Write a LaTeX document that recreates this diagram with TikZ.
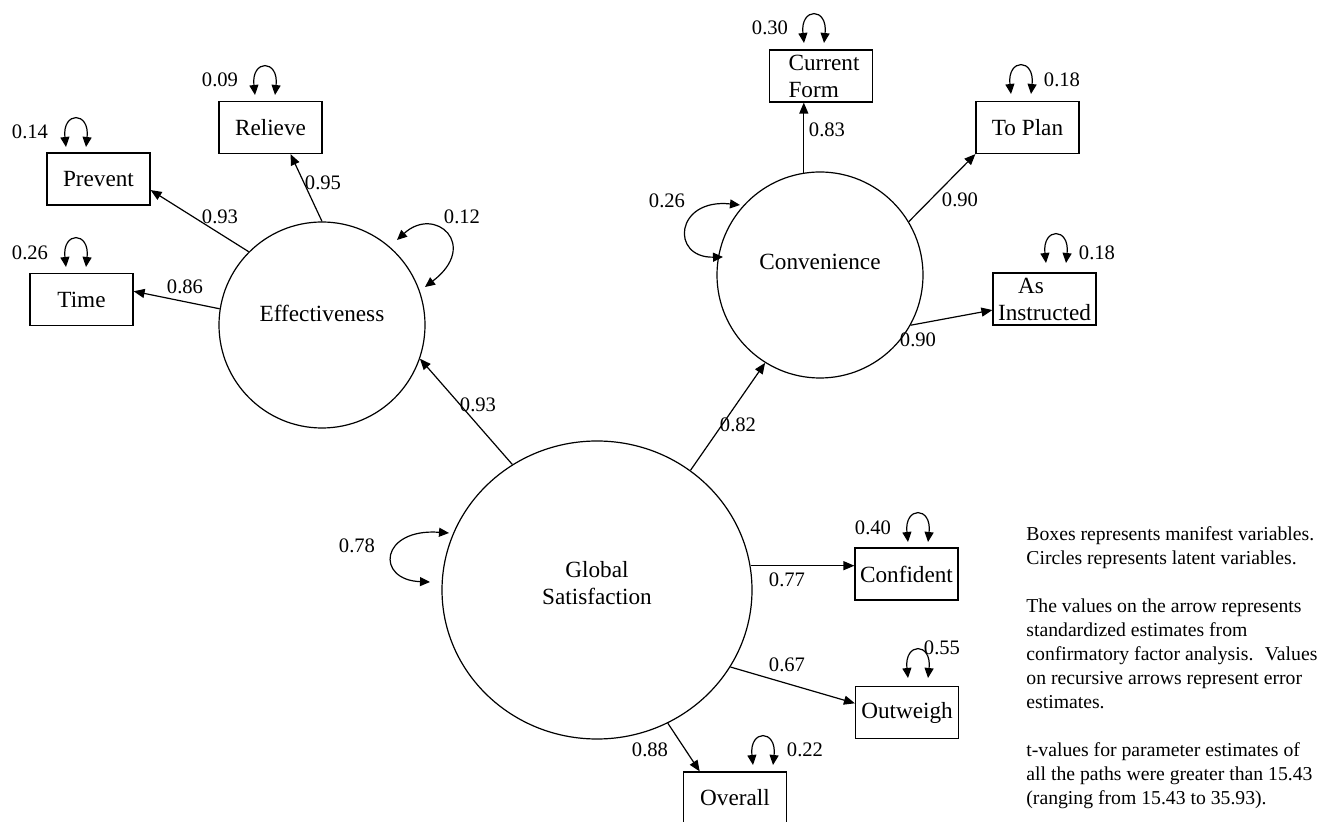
\documentclass[tikz,border=0pt]{standalone}
\usepackage{fontspec}
\setmainfont{Liberation Serif}
\usetikzlibrary{shapes.geometric, arrows.meta}
\tikzstyle{arrow} = [line width=0.6pt, -{Triangle[length=5.5pt,width=4.5pt]}]
\tikzstyle{errarc} = [line width=0.6pt, {Triangle[length=5pt,width=4.5pt]}-{Triangle[length=5pt,width=4.5pt]}]
\tikzstyle{manifest} = [draw, line width=0.6pt, rectangle, minimum width=51.5pt, minimum height=26pt, inner sep=0pt, align=left]
\tikzstyle{latent} = [draw, line width=0.6pt, circle, minimum size=103pt, inner sep=0pt]
\tikzstyle{coef} = [inner sep=0pt, font=\fontsize{10.3}{12}\selectfont]

\begin{document}
\begin{tikzpicture}[x=0.5pt, y=-0.5pt, every node/.style={font=\fontsize{11.6}{13.5}\selectfont}]
    \useasboundingbox (0,0) rectangle (1322,822);

    % latent variables
    \node[latent, label={[yshift=6pt]center:Effectiveness}] (eff) at (322,325) {};
    \node[latent, label={[yshift=6.5pt]center:Convenience}] (conv) at (820,275) {};
    \node[latent, ellipse, minimum width=155pt, minimum height=149pt,
          label={[yshift=3.5pt, align=center]center:Global\\Satisfaction}] (gs) at (597,590) {};

    % manifest variables
    \node[manifest] (relieve) at (270.5,127.5) {Relieve};
    \node[manifest] (prevent) at (98.5,179) {Prevent};
    \node[manifest] (time) at (81.5,299.5) {Time};
    \node[manifest] (cur) at (821,76) {\hspace{3pt}Current\\\hspace{3pt}Form};
    \node[manifest] (toplan) at (1027.5,127.5) {To Plan};
    \node[manifest] (asi) at (1044.5,299) {\hspace{10pt}As\\Instructed};
    \node[manifest] (conf) at (906.5,574) {Confident};
    \node[manifest] (outw) at (907,712.5) {Outweigh};
    \node[manifest] (overall) at (735,798) {Overall};

    % loadings
    \draw[arrow] (eff.north) -- (relieve.-53);
    \draw[arrow] (eff.135) -- (prevent.-12);
    \draw[arrow] (eff.171) -- (time.9);
    \draw[arrow] (conv.99) -- (conv.99 |- cur.south);
    \draw[arrow] (conv.31) -- (toplan.south west);
    \draw[arrow] (conv.-29) -- (asi.192);
    \draw[arrow] (gs.124) -- (eff.-19);
    \draw[arrow] (gs.52) -- (conv.238);
    \draw[arrow] (gs.9) -- (gs.9 -| conf.west);
    \draw[arrow] (gs.-30) -- (outw.170);
    \draw[arrow] (gs.-62) -- (overall.143);

    \node[coef] (c-relieve) at (323,183) {0.95};
    \node[coef] (c-prevent) at (220,217) {0.93};
    \node[coef] (c-time) at (185,287) {0.86};
    \node[coef] (c-cur) at (827,130) {0.83};
    \node[coef] (c-toplan) at (960,200) {0.90};
    \node[coef] (c-asi) at (918,340) {0.90};
    \node[coef] (c-eff) at (478,405) {0.93};
    \node[coef] (c-conv) at (738,425) {0.82};
    \node[coef] (c-conf) at (787,580) {0.77};
    \node[coef] (c-outw) at (787,665) {0.67};
    \node[coef] (c-overall) at (650,750) {0.88};

    % error terms of the boxes
    \foreach \n/\x/\y in {relieve/255/95, prevent/66/147, time/66/267, cur/804/43,
                          toplan/1011/94, asi/1046/263, conf/908/542, outw/908/678, overall/753/765} {
        \coordinate (\n-l) at (\x,\y);
        \coordinate (\n-r) at (\x+20,\y);
        \draw[errarc] (\n-l) .. controls +(-4,-36) and +(4,-36) .. (\n-r);
    }
    \node[coef] (e-relieve) at (220,80) {0.09};
    \node[coef] (e-prevent) at (30,132) {0.14};
    \node[coef] (e-time) at (30,253) {0.26};
    \node[coef] (e-cur) at (770,28) {0.30};
    \node[coef] (e-toplan) at (1062,80) {0.18};
    \node[coef] (e-asi) at (1097,253) {0.18};
    \node[coef] (e-conf) at (873,528) {0.40};
    \node[coef] (e-outw) at (942,648) {0.55};
    \node[coef] (e-overall) at (805,750) {0.22};

    % error terms of the circles
    \coordinate (eff-a) at (397,240);
    \coordinate (eff-b) at (425,287);
    \draw[errarc] (eff-a) .. controls (435,205) and (480,245) .. (eff-b);
    \node[coef] (e-eff) at (462,217) {0.12};

    \coordinate (conv-a) at (740,205);
    \coordinate (conv-b) at (723,257);
    \draw[errarc] (conv-a) .. controls (675,198) and (670,258) .. (conv-b);
    \node[coef] (e-conv) at (667,201) {0.26};

    \coordinate (gs-a) at (449,533);
    \coordinate (gs-b) at (430,582);
    \draw[errarc] (gs-a) .. controls (380,528) and (375,580) .. (gs-b);
    \node[coef] (e-gs) at (357,546) {0.78};

    % note
    \node[anchor=north west, inner sep=0pt, align=left, font=\fontsize{9.85}{12}\selectfont] (note) at (1026,526)
        {Boxes represents manifest variables.\\
         Circles represents latent variables.\\[12pt]
         The values on the arrow represents\\
         standardized estimates from\\
         confirmatory factor analysis.~ Values\\
         on recursive arrows represent error\\
         estimates.\\[12pt]
         t-values for parameter estimates of\\
         all the paths were greater than 15.43\\
         (ranging from 15.43 to 35.93).};
\end{tikzpicture}
\end{document}
